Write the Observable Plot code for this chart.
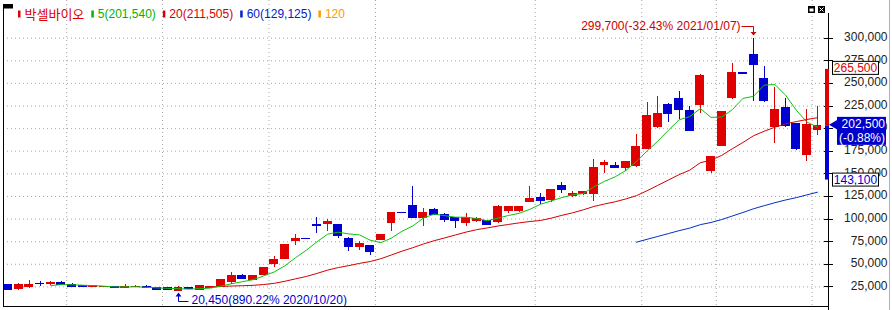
<!DOCTYPE html>
<html><head><meta charset="utf-8">
<script src="https://cdn.jsdelivr.net/npm/d3@7"></script>
<script src="https://cdn.jsdelivr.net/npm/@observablehq/plot@0.6"></script>
<style>
html,body{margin:0;padding:0;background:#fff;}
#chart{position:relative;width:892px;height:310px;overflow:hidden;}
svg{display:block}
</style></head><body><div id="chart"></div>
<script>
// ---- data ----
const openP  = [27640,22450,24660,28300,28500,29850,27310,26200,24660,24900,25000,23550,24900,24660,23550,23550,20700,23300,21500,24000,
                24700,30200,37000,33000,37800,49800,55300,75200,78400,93200,94300,92900,78500,68900,69700,76300,95400,107200,113900,101400,
                109500,105000,101000,95400,97600,97600,96500,108400,108400,119400,123100,121300,137100,125300,127500,127500,160300,159200,156700,159200,
                177700,201600,225600,233000,220000,225600,152600,180600,233600,261000,280900,255100,202300,223000,204600,170600,198300];
const highP  = [27640,29080,32070,31290,30630,31290,28750,26200,26200,25500,25000,28000,26500,26540,23550,23550,25000,23800,27000,25430,
                32100,40500,39000,36700,46400,58600,70800,82900,78400,102000,99800,92900,79900,75500,69700,82900,107200,107200,136000,111700,
                111700,106500,101000,105800,101500,97600,115000,113100,113100,136000,127900,131600,140400,131000,131000,165500,164700,162900,162900,193500,
                229200,235500,228100,241400,224800,259500,169000,219000,272300,261000,299700,268700,245100,233000,205000,220800,224500];
const lowP   = [20900,21010,23220,25430,26200,27500,25000,24660,24660,24700,23500,23550,24500,23220,22110,21010,20450,22300,21300,24000,
                24700,28000,33700,33000,37800,46100,55300,70400,78000,83700,86200,78800,64500,65200,60000,76300,86200,106700,101400,92100,
                104700,96500,89900,92100,96000,92900,95100,106500,107000,118600,116100,118000,128600,124000,126000,119800,150700,156000,152900,157300,
                176900,199800,207100,209800,197000,216400,150700,180000,232200,260500,230300,229200,183800,200900,175800,164000,192400];
const closeP = [21780,26540,26870,28000,28800,27640,25100,24660,26200,25200,23500,25430,25300,23220,22110,21010,23550,22700,25700,25430,
                32100,36800,33700,36700,46400,54200,70800,78500,78000,92600,96500,81800,68900,72600,63400,82900,107200,106900,101400,107200,
                104700,98700,98400,101000,99900,92900,113100,113100,113100,122000,120500,131600,131600,127900,129700,157000,162500,156200,162900,180200,
                214500,216700,216400,220800,197900,258700,168400,218200,261300,260500,270600,230000,221100,203100,177700,204300,202500];
const yTicks = [25000,50000,75000,100000,125000,150000,175000,200000,225000,250000,275000,300000];
const gridAfter = [5,14,24,34,49,59,66,75];            // dotted verticals between candles
const maPeriods = [5,20,60];
const maColors  = ["#10c010","#d40000","#0030c8"];
const legendLabels = ["박셀바이오","5(201,540)","20(211,505)","60(129,125)","120"];
const legendColors = ["#dd0000","#00b400","#d40000","#0022cc","#ff9900"];
const maxLabel = "299,700(-32.43% 2021/01/07)";
const minLabel = "20,450(890.22% 2020/10/20)";
const upperLimit = 265500, lastClose = 202500, lowerLimit = 143100;
const changeLabel = "(-0.88%)";

// ---- build ----
const candles = openP.map((o,i)=>({i, open:o, high:highP[i], low:lowP[i], close:closeP[i]}));
const RED = "#e00000", BLUE = "#0000d0";
const col = d => d.close >= d.open ? RED : BLUE;
const fmt = d3.format(",");
const maxI = highP.indexOf(d3.max(highP));
const minI = lowP.indexOf(d3.min(lowP));
const FONT = "'Liberation Sans','Noto Sans CJK KR',sans-serif";

const chart = Plot.plot({
  width: 892, height: 310,
  marginLeft: 3, marginRight: 64, marginTop: 0, marginBottom: 4,
  style: {fontFamily: FONT, fontSize: "12px", background: "#fff", overflow: "visible"},
  x: {type: "linear", domain: [0, 76], range: [7.6, 817], axis: null},
  y: {domain: [0, 300000], range: [309, 37.68], axis: null},
  marks: [
    Plot.ruleY(yTicks, {stroke: "#a8a8a8", strokeDasharray: "1,3"}),
    Plot.ruleX(gridAfter, {x: d => d + 0.5, stroke: "#a8a8a8", strokeDasharray: "1,3"}),
    Plot.ruleX(candles, {x: "i", y1: "low", y2: "high", stroke: col, strokeWidth: 1, shapeRendering: "crispEdges"}),
    Plot.rect(candles, {x1: d => d.i - 0.42, x2: d => d.i + 0.42, y1: "open", y2: "close", fill: col,
                        insetTop: -0.5, insetBottom: -0.5, shapeRendering: "crispEdges"}),
    ...maPeriods.slice().reverse().map((k, j) => {
      const c = maColors[maPeriods.length - 1 - j];
      return Plot.lineY(candles, Plot.windowY({k, anchor: "end", strict: true},
        {x: "i", y: "close", stroke: c, strokeWidth: 1}));
    }),
    Plot.text(yTicks, {y: d => d, frameAnchor: "right", dx: 59, dy: -1, textAnchor: "end",
                       text: d => fmt(d), fill: "#222"}),
    Plot.text([maxI], {x: d => d, y: d => highP[d], text: () => maxLabel, dx: -13, dy: -12,
                       textAnchor: "end", fill: "#cc0000"}),
    Plot.text([minI], {x: d => d, y: d => lowP[d], text: () => minLabel, dx: 13, dy: 9,
                       textAnchor: "start", fill: "#0000cc"})
  ]
});
document.getElementById("chart").appendChild(chart);

// ---- decorations positioned through the plot's scales ----
const X = chart.scale("x"), Y = chart.scale("y");
const svg = d3.select(chart);
const g = svg.append("g").attr("font-family", FONT).attr("font-size", 12).attr("text-anchor", "start");

// frame lines
g.append("line").attr("x1", 3.5).attr("x2", 3.5).attr("y1", 8).attr("y2", 307).attr("stroke", "#000");
g.append("line").attr("x1", 3).attr("x2", 828).attr("y1", 306.5).attr("y2", 306.5).attr("stroke", "#000");
g.append("line").attr("x1", 828.5).attr("x2", 828.5).attr("y1", 13).attr("y2", 310).attr("stroke", "#000");
g.append("line").attr("x1", 889.5).attr("x2", 889.5).attr("y1", 0).attr("y2", 310).attr("stroke", "#b0b0b0");
// axis ticks
yTicks.forEach(t => {
  const y = Math.round(Y.apply(t)) + 0.5;
  g.append("line").attr("x1", 824).attr("x2", 833).attr("y1", y).attr("y2", y).attr("stroke", "#000");
});
// window icons
g.append("rect").attr("x", 808).attr("y", 6).attr("width", 7).attr("height", 7).attr("fill", "#000");
g.append("rect").attr("x", 809.5).attr("y", 8.5).attr("width", 4).attr("height", 3).attr("fill", "#fff");
g.append("rect").attr("x", 818).attr("y", 6).attr("width", 7).attr("height", 7).attr("fill", "#000");
g.append("path").attr("d", "M819.5,7.5L823.5,11.5M823.5,7.5L819.5,11.5").attr("stroke", "#fff");

// price-limit bar on the axis
g.append("rect").attr("x", 825).attr("width", 4).attr("y", Y.apply(upperLimit))
  .attr("height", Y.apply(lastClose) - Y.apply(upperLimit)).attr("fill", "#e00000");
g.append("rect").attr("x", 825).attr("width", 4).attr("y", Y.apply(lastClose))
  .attr("height", Y.apply(lowerLimit) - Y.apply(lastClose)).attr("fill", "#0000d0");

// upper limit label
{
  const y = Y.apply(upperLimit);
  g.append("rect").attr("x", 832.5).attr("y", y - 7.5).attr("width", 46).attr("height", 13)
    .attr("fill", "#fff").attr("stroke", "#000");
  g.append("text").attr("x", 855.5).attr("y", y - 1).attr("dy", "0.35em").attr("text-anchor", "middle")
    .attr("fill", "#e00000").text(fmt(upperLimit));
}
// lower limit label
{
  const y = Y.apply(lowerLimit);
  g.append("rect").attr("x", 832.5).attr("y", y - 6.5).attr("width", 46).attr("height", 13)
    .attr("fill", "#fff").attr("stroke", "#000");
  g.append("text").attr("x", 855.5).attr("y", y).attr("dy", "0.35em").attr("text-anchor", "middle")
    .attr("fill", "#0000d0").text(fmt(lowerLimit));
}
// current price label
{
  const y = Y.apply(lastClose);
  g.append("path").attr("d", `M829,${y - 1}L837.5,${y - 6}L837.5,${y + 4}Z`).attr("fill", "#0000cc");
  g.append("rect").attr("x", 837).attr("y", y - 9).attr("width", 49).attr("height", 28).attr("fill", "#0000cc");
  g.append("text").attr("x", 885).attr("y", y - 2).attr("dy", "0.35em").attr("text-anchor", "end")
    .attr("fill", "#fff").text(fmt(lastClose));
  g.append("text").attr("x", 885).attr("y", y + 12).attr("dy", "0.35em").attr("text-anchor", "end")
    .attr("fill", "#fff").text(changeLabel);
}
// max / min connectors
{
  const mx = Math.round(X.apply(maxI)) + 0.5, my = Y.apply(highP[maxI]);
  g.append("path").attr("d", `M${mx - 12},${Math.round(my - 12.3) + 0.5}H${mx}V${my - 5}`)
    .attr("fill", "none").attr("stroke", "#cc0000");
  g.append("path").attr("d", `M${mx - 3},${my - 6}H${mx + 3}L${mx},${my - 2.5}Z`).attr("fill", "#cc0000");
  const nx = Math.round(X.apply(minI)) + 0.5, ny = Y.apply(lowP[minI]);
  g.append("path").attr("d", `M${nx},${ny + 5}V${Math.round(ny + 10) + 0.5}H${nx + 10}`)
    .attr("fill", "none").attr("stroke", "#0000cc");
  g.append("path").attr("d", `M${nx - 3},${ny + 6}H${nx + 3}L${nx},${ny + 2}Z`).attr("fill", "#0000cc");
}
// legend
{
  g.append("rect").attr("x", 3).attr("y", 4).attr("width", 10).attr("height", 4.5).attr("fill", "#000");
  let x = 18;
  legendLabels.forEach((lab, k) => {
    g.append("rect").attr("x", x).attr("y", 10.5).attr("width", 2.5).attr("height", 7).attr("fill", legendColors[k]);
    const t = g.append("text").attr("x", x + 6.5).attr("y", 14).attr("dy", "0.35em")
      .attr("text-anchor", "start").attr("fill", legendColors[k])
      .attr("font-size", k === 0 ? 13 : 12).text(lab);
    x = x + 6.5 + t.node().getComputedTextLength() + 7;
  });
}
</script></body></html>
